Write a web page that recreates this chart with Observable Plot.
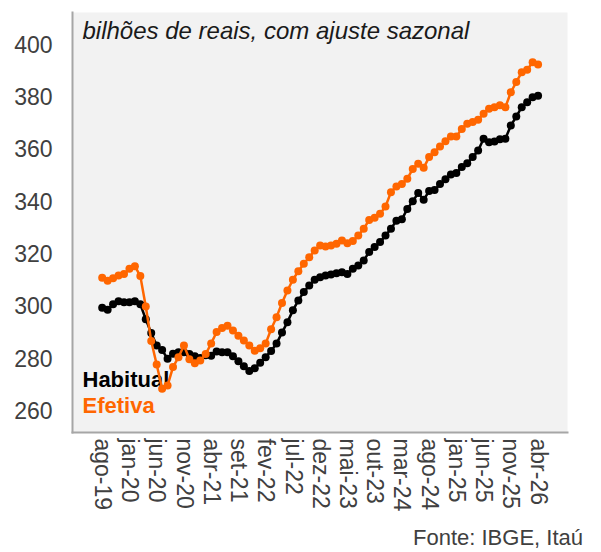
<!DOCTYPE html>
<html><head><meta charset="utf-8">
<script src="https://cdn.jsdelivr.net/npm/d3@7"></script>
<script src="https://cdn.jsdelivr.net/npm/@observablehq/plot@0.6"></script>
<style>
body{margin:0;background:#fff;font-family:"Liberation Sans",Arial,sans-serif;}
#fonte{width:601px;text-align:right;font-size:22px;line-height:24px;color:#404040;padding-right:18px;box-sizing:border-box;}
</style></head><body>
<div id="chart"></div>
<div id="fonte">Fonte: IBGE, Itaú</div>
<script>
const subtitle = "bilhões de reais, com ajuste sazonal";
const tickLabels = ["ago-19","jan-20","jun-20","nov-20","abr-21","set-21","fev-22","jul-22","dez-22","mai-23","out-23","mar-24","ago-24","jan-25","jun-25","nov-25","abr-26"];
const yTicks = [260,280,300,320,340,360,380,400];
// monthly, ago-19 .. abr-26
const habitual = [299.7,298.9,301.0,302.2,301.8,301.8,302.2,301.0,295.3,290.0,
  285.3,283.5,280.2,282.1,282.7,282.7,282.0,281.2,280.5,281.5,
  281.3,283.0,282.7,282.7,281.2,279.2,277.3,275.5,276.6,278.7,
  280.8,283.2,286.0,290.2,294.2,298.7,302.5,305.7,308.2,310.4,
  311.4,312.0,312.4,312.9,313.3,312.6,314.6,315.9,317.8,321.0,
  322.9,324.8,327.3,329.9,333.0,333.5,337.5,340.4,343.6,341.0,
  344.3,344.7,347.0,348.8,350.7,351.2,353.5,355.0,357.3,359.8,
  364.3,363.0,363.3,364.1,364.3,369.4,372.8,376.4,378.3,380.2,380.8];
const efetiva = [311.2,310.0,311.0,312.0,312.6,314.6,315.6,311.8,300.2,287.0,
  278.0,268.7,270.0,277.0,280.8,285.3,280.0,278.5,279.5,282.0,
  286.0,290.4,292.0,292.8,291.0,289.0,287.2,285.3,283.3,284.2,
  286.0,291.5,296.1,301.5,306.3,310.4,313.7,316.5,319.0,321.6,
  323.5,323.1,323.5,324.2,325.4,324.4,325.2,327.3,329.9,333.3,
  334.1,335.6,338.4,343.9,346.1,347.0,349.0,352.8,354.8,353.2,
  357.3,359.2,361.4,363.4,365.2,365.2,368.1,370.1,370.7,371.6,
  373.9,375.8,376.4,377.1,376.4,382.1,386.0,389.8,390.7,393.6,392.7];
const rows = habitual.map((v, i) => ({i, habitual: v, efetiva: efetiva[i]}));
const ORANGE = "#ff6600";
const chart = Plot.plot({
  width: 601, height: 526,
  marginLeft: 72, marginRight: 34, marginTop: 12, marginBottom: 94,
  style: {fontFamily: "'Liberation Sans', Arial, sans-serif", background: "#fff", overflow: "visible"},
  x: {type: "linear", domain: [-5.45, 85.4]},
  y: {domain: [252, 412.6]},
  marks: [
    Plot.frame({fill: "#f2f2f2", stroke: null}),
    Plot.frame({anchor: "left", stroke: "#a6a6a6", strokeWidth: 2}),
    Plot.frame({anchor: "bottom", stroke: "#a6a6a6", strokeWidth: 2}),
    Plot.axisY({ticks: yTicks, tickSize: 0, tickPadding: 20, fontSize: 23, fill: "#404040", label: null}),
    Plot.axisX({ticks: tickLabels.map((d, k) => k * 5), tickFormat: d => tickLabels[Math.round(d / 5)],
      tickRotate: 90, tickSize: 0, tickPadding: 6, fontSize: 23, fill: "#404040", label: null}),
    Plot.text([subtitle], {text: d => d, frameAnchor: "top-left", dx: 10, dy: 26, lineAnchor: "bottom",
      textAnchor: "start", fontSize: 24, fontStyle: "italic", fill: "#1a1a1a"}),
    Plot.text(["Habitual"], {text: d => d, frameAnchor: "bottom-left", dx: 10, dy: -46, lineAnchor: "bottom",
      textAnchor: "start", fontSize: 22, fontWeight: "bold", fill: "#000"}),
    Plot.text(["Efetiva"], {text: d => d, frameAnchor: "bottom-left", dx: 10, dy: -20, lineAnchor: "bottom",
      textAnchor: "start", fontSize: 22, fontWeight: "bold", fill: ORANGE}),
    Plot.line(rows, {x: "i", y: "habitual", stroke: "#000", strokeWidth: 2.5}),
    Plot.dot(rows, {x: "i", y: "habitual", r: 4, fill: "#000"}),
    Plot.line(rows, {x: "i", y: "efetiva", stroke: ORANGE, strokeWidth: 2.5}),
    Plot.dot(rows, {x: "i", y: "efetiva", r: 4, fill: ORANGE})
  ]
});
document.getElementById("chart").appendChild(chart);
</script>
</body></html>
